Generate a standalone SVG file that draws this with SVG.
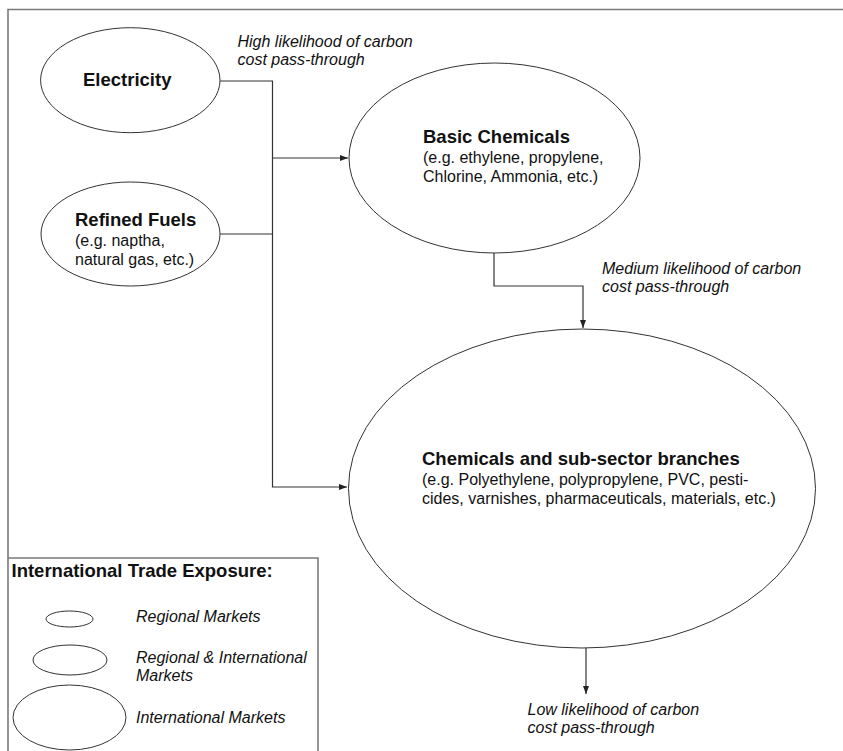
<svg xmlns="http://www.w3.org/2000/svg" width="843" height="751" viewBox="0 0 843 751">
  <style>
    .node { fill: #ffffff; stroke: #333333; stroke-width: 1; }
    .conn { fill: none; stroke: #333333; stroke-width: 1.2; }
    .frame { fill: none; stroke: #7a7a7a; stroke-width: 1.6; }
    .title { font-family: "Liberation Sans", Arial, sans-serif; font-weight: bold; font-size: 18.5px; fill: #111111; }
    .sub { font-family: "Liberation Sans", Arial, sans-serif; font-size: 16px; fill: #111111; }
    .note { font-family: "Liberation Sans", Arial, sans-serif; font-style: italic; font-size: 16px; fill: #111111; }
  </style>
  <defs>
    <marker id="arrow" markerWidth="8" markerHeight="6" refX="8" refY="3" orient="auto" markerUnits="userSpaceOnUse">
      <path d="M0,0 L8,3 L0,6 z" fill="#222222"/>
    </marker>
  </defs>
  <rect width="843" height="751" fill="#ffffff"/>

  <g id="frame">
    <path class="frame" d="M8,751 V9.5 H843"/>
  </g>

  <g id="connectors">
    <path class="conn" d="M220,81 H272.5 V487 H347" marker-end="url(#arrow)"/>
    <path class="conn" d="M272.5,158 H348" marker-end="url(#arrow)"/>
    <path class="conn" d="M220,234 H272.5"/>
    <path class="conn" d="M494,253 V286 H583 V328" marker-end="url(#arrow)"/>
    <path class="conn" d="M586,648 V694" marker-end="url(#arrow)"/>
  </g>

  <g id="electricity">
    <ellipse class="node" cx="130.3" cy="80.2" rx="89.7" ry="52.5"/>
    <text class="title" x="83" y="86">Electricity</text>
  </g>

  <g id="refined-fuels">
    <ellipse class="node" cx="130.5" cy="234" rx="89.5" ry="52"/>
    <text class="title" x="75" y="226">Refined Fuels</text>
    <text class="sub" x="75" y="246">(e.g. naptha,</text>
    <text class="sub" x="75" y="265">natural gas, etc.)</text>
  </g>

  <g id="basic-chemicals">
    <ellipse class="node" cx="494.5" cy="158" rx="145.5" ry="95"/>
    <text class="title" x="423" y="143">Basic Chemicals</text>
    <text class="sub" x="423" y="163">(e.g. ethylene, propylene,</text>
    <text class="sub" x="423" y="182">Chlorine, Ammonia, etc.)</text>
  </g>

  <g id="chemicals-branches">
    <ellipse class="node" cx="582" cy="488.5" rx="233.5" ry="159.5"/>
    <text class="title" x="422" y="465">Chemicals and sub-sector branches</text>
    <text class="sub" x="422" y="485">(e.g. Polyethylene, polypropylene, PVC, pesti-</text>
    <text class="sub" x="422" y="504">cides, varnishes, pharmaceuticals, materials, etc.)</text>
  </g>

  <g id="label-high">
    <text class="note" x="237.5" y="47">High likelihood of carbon</text>
    <text class="note" x="237.5" y="65">cost pass-through</text>
  </g>

  <g id="label-medium">
    <text class="note" x="602" y="274">Medium likelihood of carbon</text>
    <text class="note" x="602" y="292">cost pass-through</text>
  </g>

  <g id="label-low">
    <text class="note" x="527.5" y="715">Low likelihood of carbon</text>
    <text class="note" x="527.5" y="733">cost pass-through</text>
  </g>

  <g id="legend">
    <path class="frame" d="M8,558 H318 V751"/>
    <text class="title" x="11.5" y="577">International Trade Exposure:</text>
    <ellipse class="node" cx="69.5" cy="619" rx="23.5" ry="8"/>
    <text class="note" x="136" y="622">Regional Markets</text>
    <ellipse class="node" cx="70" cy="660" rx="37" ry="15"/>
    <text class="note" x="136" y="663">Regional &amp; International</text>
    <text class="note" x="136" y="681">Markets</text>
    <ellipse class="node" cx="69.5" cy="717.5" rx="56.5" ry="32.5"/>
    <text class="note" x="136" y="723">International Markets</text>
  </g>
</svg>
